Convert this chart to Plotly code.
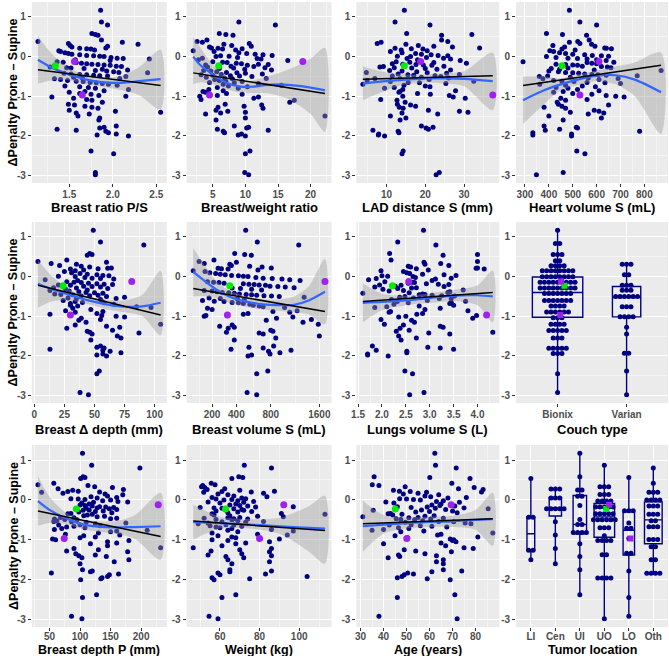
import numpy as np
import plotly.graph_objects as go

W, H = 669, 656

# ---------------- shared response (ΔPenalty Prone – Supine) ----------------
dpen = [
    1.17, 0.87, 0.80, 0.58, 0.56, 0.54,
    0.42, 0.38, 0.36, 0.33, 0.31, 0.28, 0.26, 0.24, 0.22, 0.21, 0.20, 0.19, 0.17, 0.15,
    0.13, 0.10, 0.08, 0.06, 0.05, 0.03, 0.02, 0.01, 0.00, -0.02, -0.04, -0.05, -0.06, -0.08, -0.10,
    -0.13, -0.14, -0.15, -0.17, -0.18, -0.19, -0.20, -0.21, -0.22, -0.24, -0.25, -0.26, -0.28, -0.29, -0.30, -0.32, -0.34,
    -0.35, -0.36, -0.38, -0.40, -0.41, -0.42, -0.44, -0.45, -0.46, -0.47, -0.48, -0.49, -0.50, -0.52, -0.54, -0.55, -0.56, -0.58,
    -0.60, -0.62, -0.63, -0.65, -0.66, -0.68, -0.70, -0.72, -0.74, -0.76, -0.78, -0.80, -0.83, -0.86, -0.88,
    -0.90, -0.93, -0.95, -0.98, -1.00, -1.02, -1.05, -1.08, -1.10, -1.15,
    -1.20, -1.22, -1.25, -1.28, -1.30, -1.35, -1.38, -1.40, -1.42, -1.45, -1.50, -1.55, -1.60,
    -1.75, -1.78, -1.80, -1.83, -1.86, -1.88, -1.92, -1.95, -1.98, -2.00,
    -2.38, -2.45, -2.92, -2.98]

couch_labels = ["Bionix", "Varian"]
couch_code = [
    0, 0, 0, 0, 0, 0,
    0, 0, 1, 0, 0, 1, 1, 0, 0, 0, 0, 0, 0, 0,
    0, 0, 0, 1, 0, 1, 0, 0, 0, 0, 0, 0, 0, 0, 0,
    0, 0, 0, 0, 0, 1, 0, 1, 0, 1, 0, 0, 1, 0, 0, 0, 0,
    0, 0, 1, 0, 1, 0, 1, 0, 0, 1, 0, 0, 1, 1, 1, 0, 1, 0,
    0, 0, 0, 0, 0, 0, 0, 0, 1, 1, 1, 0, 0, 0, 0,
    0, 0, 0, 1, 1, 1, 1, 0, 0, 0,
    0, 0, 0, 1, 0, 0, 0, 0, 0, 1, 0, 0, 0,
    0, 0, 0, 0, 0, 0, 1, 1, 0, 0,
    1, 0, 0, 1]

loc_labels = ["LI", "Cen", "UI", "UO", "LO", "Oth"]
loc_code = [
    2, 3, 5, 2, 4, 0,
    5, 3, 3, 1, 1, 3, 2, 2, 1, 5, 5, 3, 5, 3,
    2, 1, 3, 2, 5, 3, 1, 5, 1, 3, 5, 3, 5, 3, 5,
    3, 2, 5, 3, 1, 3, 1, 5, 1, 4, 1, 1, 3, 4, 4, 5, 3,
    5, 3, 3, 5, 3, 0, 3, 0, 3, 3, 3, 2, 5, 3, 5, 1, 3, 4,
    2, 5, 2, 3, 4, 5, 3, 5, 3, 4, 2, 2, 2, 2, 1,
    3, 5, 3, 3, 5, 3, 5, 3, 2, 5,
    5, 1, 0, 0, 4, 3, 4, 3, 2, 5, 0, 5, 1,
    2, 4, 5, 5, 5, 5, 3, 3, 3, 3,
    2, 4, 4, 3]

# highlighted patients (green, purple, purple)
hl_dpen = [-0.23, -0.12, -0.97]
hl_couch = [0, 0, 0]
hl_loc = [3, 3, 4]

# ---------------- predictors ----------------
breast_ratio = [
    1.86, 1.87, 1.94, 1.76, 1.80, 1.83,
    1.87, 1.14, 2.11, 1.49, 2.29, 1.51, 1.94, 1.53, 1.92, 1.62, 1.70, 1.75, 1.79, 1.38,
    1.40, 1.45, 1.49, 1.53, 1.62, 1.70, 1.78, 1.85, 1.90, 1.98, 2.05, 2.12, 2.42, 1.57, 1.97,
    1.36, 1.43, 1.58, 1.64, 1.70, 1.76, 1.83, 1.90, 1.97, 2.04, 2.10, 1.28, 1.47, 1.52, 1.67, 1.88, 2.17,
    1.80, 1.93, 2.01, 2.07, 2.40, 1.44, 1.52, 1.62, 1.70, 1.78, 1.85, 1.94, 2.15, 1.55, 1.65, 2.08, 1.33, 1.40,
    1.48, 1.58, 1.66, 1.74, 1.81, 1.88, 1.95, 2.05, 1.45, 1.62, 1.72, 1.80, 2.18, 1.90, 1.68,
    1.50, 1.62, 1.75, 1.84, 2.15, 1.30, 1.55, 1.70, 1.76, 1.88,
    1.49, 1.56, 1.68, 1.76, 1.83, 1.50, 2.03, 2.55, 1.58, 1.73, 1.60, 1.85, 1.84,
    2.04, 1.90, 1.85, 1.36, 1.58, 1.92, 1.95, 2.04, 1.82, 2.18,
    1.75, 2.01, 1.80, 1.80]
hl_breast_ratio = [1.34, 1.56, 1.65]

bw_ratio = [
    None, 9.0, 14.6, 6.0, 7.0, 8.1,
    4.1, 2.6, 3.4, 10.6, 6.7, 7.9, 10.9, 4.5, 4.8, 5.8, 9.5, 6.5, 8.5, 2.0,
    5.2, 9.0, 10.2, 11.5, 12.7, 14.1, 6.2, 7.5, 5.5, 8.8, 3.4, 11.8, 12.4, 2.8, 16.5,
    5.0, 6.5, 7.2, 8.6, 9.4, 12.0, 13.5, 3.9, 10.3, 7.8, 11.3, 4.2, 13.0, 8.2, 6.0, 9.9, 14.0,
    3.6, 4.7, 5.6, 7.1, 8.7, 10.0, 12.6, 6.3, 3.2, 5.0, 7.7, 9.1, 11.0, 4.0, 6.8, 13.2, 8.0, 5.3,
    6.0, 7.0, 9.5, 4.5, 8.3, 12.0, 6.6, 15.5, 7.4, 10.3, 5.7, 8.9, 4.4, 6.6, 3.5,
    3.9, 7.1, 9.5, 5.7, 3.0, 12.0, 11.3, 3.2, 17.5, 16.8,
    6.9, 12.5, 9.8, 5.8, 12.7, 5.5, 7.3, 10.0, 6.2, 3.9, 22.2, 10.0, 5.5,
    8.3, 10.5, 10.2, 5.7, 13.5, 6.6, 6.8, 9.4, 8.9, 10.0,
    10.7, 10.0, 9.9, 10.5]
hl_bw_ratio = [5.9, 18.8, 4.5]

lad_dist = [
    14.6, 12.2, 21.2, 15.2, 32.0, 24.2,
    24.2, 25.8, 8.6, 7.6, 15.0, 18.2, 22.2, 27.0, 34.0, 12.2, 16.4, 19.4, 13.8, 20.5,
    11.0, 14.0, 17.5, 19.0, 21.5, 23.3, 25.8, 12.8, 16.2, 20.3, 24.7, 15.3, 26.5, 18.0, 29.0,
    12.5, 16.0, 22.2, 30.6, 11.5, 14.2, 17.6, 19.5, 21.7, 24.8, 9.2, 8.3, 12.0, 16.5, 20.0, 23.0, 26.5,
    10.8, 14.0, 17.8, 4.8, 20.5, 25.5, 13.0, 28.8, 15.5, 17.0, 22.5, 11.5, 24.0, 19.0, 26.0, 7.0, 13.5, 21.0,
    5.0, 32.5, 11.0, 15.6, 18.5, 25.3, 3.9, 14.5, 20.0, 21.2, 12.0, 9.5, 14.2, 27.8, 13.5,
    13.2, 18.0, 21.3, 26.2, 14.2, 27.2, 30.3, 8.5, 12.7, 14.8,
    12.8, 16.2, 17.5, 13.3, 14.3, 20.8, 28.8, 31.0, 14.0, 23.2, 11.0, 15.0, 13.5,
    19.0, 22.0, 20.2, 20.8, 6.5, 13.0, 13.2, 8.0, 7.9, 9.5,
    14.3, 14.0, 23.6, 22.8]
hl_lad_dist = [14.6, 18.8, 37.4]

heart_vol = [
    486, 530, 600, 390, 457, 558,
    569, 521, 486, 530, 579, 417, 593, 466, 634, 641, 662, 455, 510, 404,
    420, 445, 470, 500, 550, 582, 620, 650, 390, 430, 480, 520, 560, 600, 640,
    292, 672, 560, 580, 600, 430, 470, 500, 520, 540, 620, 645, 660, 480, 410, 445, 590,
    870, 400, 440, 470, 500, 525, 550, 580, 605, 640, 770, 395, 360, 490, 565, 690, 375, 610,
    420, 455, 505, 560, 635, 700, 362, 470, 540, 595, 430, 480, 520, 610, 460,
    420, 500, 580, 640, 680, 715, 450, 560, 470, 435,
    440, 650, 455, 380, 470, 590, 610, 490, 630, 565, 400, 620, 460,
    380, 515, 520, 445, 385, 780, 333, 495, 333, 495,
    517, 551, 460, 348]
hl_heart_vol = [455, 610, 530]

breast_ddepth = [
    49, 55, 91, 46, 48, 44,
    27, 3, 60, 14, 35, 21, 39, 46, 64, 61, 53, 30, 41, 34,
    25, 31, 38, 44, 52, 57, 62, 20, 34, 42, 48, 55, 66, 9, 36,
    27, 33, 39, 45, 52, 58, 65, 20, 30, 41, 48, 55, 16, 35, 61, 26, 44,
    13, 29, 37, 43, 50, 57, 17, 22, 32, 53, 46, 39, 60, 75, 28, 68, 35, 55,
    24, 56, 34, 40, 58, 30, 66, 30, 36, 85, 97, 32, 47, 26, 57,
    34, 52, 13, 56, 68, 75, 39, 55, 37, 43,
    105, 34, 60, 71, 27, 65, 44, 46, 87, 48, 69, 72, 47,
    55, 52, 58, 13, 57, 63, 72, 57, 52, 60,
    54, 52, 38, 45]
hl_breast_ddepth = [24, 81, 30]

breast_vol = [
    495, 627, 1227, 384, 484, 557,
    213, 121, 400, 150, 339, 353, 538, 686, 807, 243, 269, 324, 635, 92,
    155, 185, 225, 260, 300, 355, 420, 470, 520, 610, 700, 820, 960, 1080, 1250,
    170, 210, 250, 290, 470, 530, 590, 650, 730, 790, 900, 1010, 1150, 360, 440, 560, 680,
    150, 200, 235, 275, 330, 380, 430, 500, 560, 620, 710, 810, 920, 1320, 180, 260, 410, 480,
    140, 215, 290, 360, 420, 470, 540, 580, 650, 700, 1000, 170, 200, 1200, 830,
    1080, 520, 470, 160, 150, 1130, 880, 1450, 740, 1300,
    1580, 360, 255, 380, 325, 800, 830, 310, 650, 700, 1600, 870, 380,
    840, 530, 700, 350, 1100, 770, 930, 790, 560, 520,
    760, 620, 510, 620]
hl_breast_vol = [339, 1710, 318]

lungs_vol = [
    2.87, 2.33, 3.13, 2.16, 4.00, 3.28,
    2.19, 4.00, 2.88, 3.23, 2.90, 3.40, 2.55, 2.60, 4.00, 3.97, 2.72, 4.14, 2.97, 1.98,
    2.45, 2.52, 2.58, 2.85, 3.30, 3.55, 2.00, 2.12, 2.65, 2.70, 3.45, 1.88, 3.12, 1.72, 3.05,
    2.06, 2.63, 2.68, 2.55, 2.93, 3.18, 3.40, 1.95, 2.40, 2.28, 3.30, 1.85, 2.72, 2.62, 2.33, 2.02, 3.70,
    2.45, 2.15, 3.42, 3.38, 2.57, 1.60, 2.85, 2.90, 2.78, 3.05, 3.25, 3.52, 2.48, 2.37, 2.66, 3.20, 3.45, 2.20,
    2.95, 3.75, 2.32, 3.45, 2.55, 3.42, 2.25, 3.50, 2.78, 2.10, 1.85, 3.22, 2.90, 3.80, 2.18,
    2.15, 2.85, 2.73, 3.98, 2.50, 2.35, 3.90, 1.98, 2.62, 2.68,
    2.05, 2.45, 3.22, 3.28, 2.38, 2.57, 2.30, 4.32, 2.98, 3.42, 2.35, 2.72, 2.40,
    1.80, 2.96, 3.22, 3.50, 1.88, 2.52, 2.52, 1.70, 1.70, 2.13,
    2.48, 2.64, 2.88, 2.58]
hl_lungs_vol = [2.22, 2.56, 4.19]

breast_depth_p = [
    104, 119, 198, 105, 108, 101,
    57, 31, 113, 124, 153, 64, 171, 88, 97, 80, 132, 37, 72, 141,
    170, 145, 118, 160, 128, 85, 97, 108, 150, 137, 162, 178, 122, 103, 115,
    100, 108, 120, 132, 142, 155, 128, 110, 148, 160, 115, 105, 138, 125, 98, 152, 85,
    80, 120, 112, 106, 140, 128, 68, 90, 160, 150, 58, 75, 95, 62, 57, 86, 110, 175,
    125, 100, 65, 133, 90, 78, 108, 70, 58, 210, 160, 150, 130, 76, 165,
    106, 125, 100, 55, 60, 180, 145, 160, 117, 145,
    232, 90, 130, 78, 178, 93, 125, 98, 143, 103, 180, 156, 100,
    104, 120, 117, 53, 163, 148, 145, 136, 134, 101,
    127, 104, 86, 103]
hl_breast_depth_p = [94, 228, 74]

weight = [
    None, 72.3, 86, 69.5, 71.5, 66,
    55.6, 57.5, 51.3, 50.7, 52.3, 62.4, 53.5, 70, 87.5, 61, 75.8, 51.8, 82, 59,
    64, 67, 83.7, 56, 71, 73, 58, 66, 62, 69, 77, 54, 72, 60, 68,
    65, 70, 74, 97, 78, 50, 57, 61, 67, 71, 63, 72, 58, 76, 69, 64, 91,
    56, 113, 57, 65, 79, 92, 70, 64, 52, 67, 74, 58, 66, 69, 82, 61, 73, 54,
    49, 63, 67, 55, 71, 58, 60, 66, 86, 64, 97, 69, 56, 79, 94,
    59, 66, 68, 90, 56, 64, 85, 73, 68, 61,
    46.5, 86, 70, 55.5, 85, 71, 54, 86, 63, 72, 64, 85, 66,
    65, 86, 65, 59, 83, 60, 104, 56, 75, 57,
    68, 61, 54.5, 59]
hl_weight = [62.8, 92.2, 80]

age = [
    62.3, 62.6, 71.6, 35.9, 60.1, 77.6,
    69.7, 35.1, 38.0, 49.4, 79.4, 72.6, 83.3, 44.3, 46.9, 51.6, 82.6, 58.7, 55.0, 48.6,
    64.0, 58.0, 60.5, 76.0, 68.0, 47.0, 50.0, 53.0, 56.0, 66.0, 63.0, 41.0, 73.0, 44.5, 65.0,
    61.0, 64.5, 71.0, 46.0, 59.0, 52.0, 75.0, 62.5, 85.5, 67.0, 56.5, 35.5, 70.0, 60.0, 54.0, 72.0, 43.0,
    42.0, 48.0, 44.0, 62.0, 58.0, 31.0, 55.0, 51.0, 66.0, 45.5, 60.5, 47.5, 53.5, 57.0, 64.0, 70.5, 49.5, 75.5,
    78.0, 52.0, 42.5, 56.0, 61.0, 67.5, 46.5, 51.0, 40.0, 35.0, 57.5, 47.5, 87.5, 65.0, 63.5,
    45.0, 81.0, 50.5, 69.0, 70.5, 70.0, 71.5, 65.0, 40.0, 67.0,
    75.0, 79.0, 49.0, 54.0, 69.5, 58.0, 46.5, 63.0, 47.0, 42.0, 66.0, 63.0, 66.0,
    66.0, 74.0, 61.0, 50.5, 53.0, 49.0, 48.0, 46.0, 59.0, 69.0,
    71.0, 46.0, 38.0, 72.0]
hl_age = [45.1, 69.4, 50.1]

# ---------------- fitted curves ----------------
lo_x_ratio = [1.14, 1.3, 1.5, 1.7, 1.9, 2.1, 2.3, 2.55]
lo_y_ratio = [-0.08, -0.28, -0.45, -0.58, -0.65, -0.66, -0.62, -0.57]
lo_lo_ratio = [-0.68, -0.60, -0.60, -0.70, -0.77, -0.84, -0.97, -1.33]
lo_hi_ratio = [0.52, 0.07, -0.30, -0.46, -0.53, -0.48, -0.27, 0.17]
lm_x_ratio, lm_y_ratio = [1.14, 2.55], [-0.33, -0.73]

lo_x_bw = [2.0, 3, 5, 7, 9, 11, 13, 15, 17, 20, 22.2]
lo_y_bw = [0.0, -0.2, -0.45, -0.65, -0.75, -0.76, -0.72, -0.70, -0.72, -0.78, -0.85]
lo_lo_bw = [-0.70, -0.65, -0.70, -0.82, -0.90, -0.92, -0.92, -0.98, -1.10, -1.45, -1.90]
lo_hi_bw = [0.50, 0.25, -0.20, -0.48, -0.60, -0.60, -0.52, -0.42, -0.30, -0.05, 0.22]
lm_x_bw, lm_y_bw = [2.0, 22.2], [-0.41, -0.93]

lo_x_lad = [3.9, 10, 15, 20, 25, 30, 37.4]
lo_y_lad = [-0.68, -0.62, -0.58, -0.55, -0.55, -0.56, -0.62]
lo_lo_lad = [-1.10, -0.85, -0.70, -0.65, -0.68, -0.75, -1.35]
lo_hi_lad = [-0.25, -0.40, -0.45, -0.45, -0.42, -0.37, 0.10]
lm_x_lad, lm_y_lad = [3.9, 37.4], [-0.57, -0.48]

lo_x_heart = [292, 380, 450, 520, 600, 680, 760, 870]
lo_y_heart = [-1.10, -0.85, -0.70, -0.58, -0.48, -0.47, -0.58, -0.90]
lo_lo_heart = [-1.70, -1.20, -0.85, -0.72, -0.62, -0.70, -1.00, -1.95]
lo_hi_heart = [-0.50, -0.50, -0.55, -0.45, -0.35, -0.25, -0.15, 0.10]
lm_x_heart, lm_y_heart = [292, 870], [-0.73, -0.22]

lo_x_dd = [3, 15, 30, 45, 60, 75, 90, 105]
lo_y_dd = [-0.18, -0.32, -0.47, -0.60, -0.70, -0.76, -0.75, -0.66]
lo_lo_dd = [-0.78, -0.62, -0.60, -0.70, -0.82, -0.90, -1.00, -1.48]
lo_hi_dd = [0.42, 0.00, -0.33, -0.50, -0.58, -0.60, -0.45, 0.15]
lm_x_dd, lm_y_dd = [3, 105], [-0.22, -0.97]

lo_x_bv = [92, 150, 240, 350, 500, 700, 900, 1150, 1400, 1710]
lo_y_bv = [0.12, -0.10, -0.35, -0.52, -0.63, -0.70, -0.72, -0.71, -0.60, -0.38]
lo_lo_bv = [-0.50, -0.50, -0.55, -0.67, -0.76, -0.83, -0.86, -0.90, -0.95, -1.20]
lo_hi_bv = [0.72, 0.30, -0.15, -0.37, -0.50, -0.57, -0.58, -0.50, -0.25, 0.45]
lm_x_bv, lm_y_bv = [92, 1710], [-0.30, -0.88]

lo_x_lung = [1.6, 2.0, 2.5, 3.0, 3.5, 4.0, 4.32]
lo_y_lung = [-0.66, -0.64, -0.60, -0.54, -0.48, -0.47, -0.50]
lo_lo_lung = [-1.15, -0.85, -0.72, -0.66, -0.62, -0.72, -1.15]
lo_hi_lung = [-0.17, -0.43, -0.48, -0.42, -0.34, -0.22, 0.15]
lm_x_lung, lm_y_lung = [1.6, 4.32], [-0.63, -0.40]

lo_x_dp = [31, 50, 75, 100, 130, 160, 190, 232]
lo_y_dp = [-0.03, -0.25, -0.45, -0.60, -0.67, -0.69, -0.68, -0.66]
lo_lo_dp = [-0.65, -0.58, -0.60, -0.72, -0.80, -0.85, -0.98, -1.50]
lo_hi_dp = [0.60, 0.08, -0.30, -0.48, -0.54, -0.53, -0.38, 0.18]
lm_x_dp, lm_y_dp = [31, 232], [-0.28, -0.92]

lo_x_wt = [46.5, 60, 75, 90, 105, 113]
lo_y_wt = [-0.56, -0.58, -0.62, -0.66, -0.70, -0.72]
lo_lo_wt = [-1.00, -0.72, -0.72, -0.85, -1.30, -1.60]
lo_hi_wt = [-0.12, -0.42, -0.48, -0.45, -0.15, 0.10]
lm_x_wt, lm_y_wt = [46.5, 113], [-0.53, -0.77]

lo_x_age = [31, 40, 50, 60, 70, 80, 87.5]
lo_y_age = [-0.66, -0.62, -0.58, -0.55, -0.54, -0.50, -0.48]
lo_lo_age = [-1.30, -0.85, -0.72, -0.68, -0.68, -0.75, -1.15]
lo_hi_age = [-0.02, -0.38, -0.44, -0.42, -0.40, -0.25, 0.18]
lm_x_age, lm_y_age = [31, 87.5], [-0.60, -0.47]

for arr in [breast_ratio, bw_ratio, lad_dist, heart_vol, breast_ddepth, breast_vol,
            lungs_vol, breast_depth_p, weight, age, couch_code, loc_code]:
    assert len(arr) == len(dpen), len(arr)

# ---------------- styling ----------------
NAVY = "#000080"
HL_COLORS = ["#00EE00", "#A020F0", "#A020F0"]
FONT = "Liberation Sans, Arial, sans-serif"
TICKFONT = dict(family=FONT, size=10, color="#4D4D4D", weight="bold")
PANEL_BG = "#EBEBEB"

cols_px = [(27, 163), (183, 329), (354, 498), (515, 668)]
rows_px = [(2, 183), (222, 403), (445, 627)]
xtitle_y = [207, 429, 649.5]
xtitle_size = [13, 13, 12.5]


def xdom(c):
    return [cols_px[c][0] / W, cols_px[c][1] / W]


def ydom(r):
    return [1 - rows_px[r][1] / H, 1 - rows_px[r][0] / H]


def expand(lo, hi, f=0.05):
    d = (hi - lo) * f
    return [lo - d, hi + d]


allY = np.array(dpen + hl_dpen, dtype=float)
YR = expand(np.nanmin(allY), np.nanmax(allY))
YTICKS = [-3, -2, -1, 0, 1]

fig = go.Figure()
layout = {}
annotations = []
shapes = []


def base_axis():
    return dict(showgrid=True, gridcolor="white", gridwidth=1.1, zeroline=False, showline=False,
                ticks="outside", ticklen=3, tickwidth=1, tickcolor="#333333",
                tickfont=TICKFONT, fixedrange=True)


def set_axes(k, r, c, xrange, xtickvals, xticktext, xminor):
    xa = base_axis()
    xa.update(domain=xdom(c), anchor="y%d" % k, range=xrange,
              tickmode="array", tickvals=xtickvals, ticktext=xticktext,
              ticklabelstandoff=-3 if r == 2 else -1)
    if xminor:
        xa["minor"] = dict(tickvals=xminor, showgrid=True, gridcolor="#F5F5F5", gridwidth=0.6, ticks="")
    ya = base_axis()
    ya.update(domain=ydom(r), anchor="x%d" % k, range=YR,
              tickmode="array", tickvals=YTICKS, ticktext=[str(v) for v in YTICKS],
              minor=dict(tickvals=[-2.5, -1.5, -0.5, 0.5], showgrid=True, gridcolor="#F5F5F5",
                         gridwidth=0.6, ticks=""))
    suffix = "" if k == 1 else str(k)
    layout["xaxis" + suffix] = xa
    layout["yaxis" + suffix] = ya
    shapes.append(dict(type="rect", xref="paper", yref="paper", layer="below",
                       x0=xdom(c)[0], x1=xdom(c)[1], y0=ydom(r)[0], y1=ydom(r)[1],
                       fillcolor=PANEL_BG, line=dict(width=0)))


def midpoints(v):
    v = list(v)
    return [(a + b) / 2 for a, b in zip(v[:-1], v[1:])]


def add_xtitle(r, c, title):
    annotations.append(dict(text=title, xref="paper", yref="paper",
                            x=(cols_px[c][0] + cols_px[c][1]) / 2 / W, y=1 - xtitle_y[r] / H,
                            xanchor="center", yanchor="middle", showarrow=False,
                            font=dict(family=FONT, size=xtitle_size[r], color="black", weight="bold")))


def scatter_panel(k, r, c, xdata, hlx, title, tickvals, ticktext, sx, sy, blo, bhi, lmx, lmy, sqrt=False):
    tf = (lambda a: np.sqrt(np.array(a, dtype=float))) if sqrt else (lambda a: np.array(a, dtype=float))
    xs = tf([np.nan if v is None else v for v in xdata])
    hx = tf(hlx)
    allx = np.concatenate([xs[~np.isnan(xs)], hx])
    xr = expand(allx.min(), allx.max())
    tv = list(tf(tickvals))
    step = tv[1] - tv[0]
    minor = midpoints([tv[0] - step] + tv + [tv[-1] + (tv[-1] - tv[-2])])
    set_axes(k, r, c, xr, tv, ticktext, minor)
    xa, ya = "x%d" % k, "y%d" % k
    fig.add_trace(go.Scatter(x=xs, y=dpen, mode="markers", xaxis=xa, yaxis=ya,
                             marker=dict(color=NAVY, size=5, line=dict(width=0)), hoverinfo="skip"))
    bx = list(tf(sx))
    fig.add_trace(go.Scatter(x=bx + bx[::-1], y=list(bhi) + list(blo)[::-1], xaxis=xa, yaxis=ya,
                             mode="lines", fill="toself", fillcolor="rgba(153,153,153,0.4)",
                             line=dict(width=0, shape="spline", smoothing=0.8), hoverinfo="skip"))
    fig.add_trace(go.Scatter(x=bx, y=sy, mode="lines", xaxis=xa, yaxis=ya,
                             line=dict(color="#3366FF", width=2.2, shape="spline", smoothing=0.8),
                             hoverinfo="skip"))
    fig.add_trace(go.Scatter(x=tf(lmx), y=lmy, mode="lines", xaxis=xa, yaxis=ya,
                             line=dict(color="black", width=1.5), hoverinfo="skip"))
    fig.add_trace(go.Scatter(x=hx, y=hl_dpen, mode="markers", xaxis=xa, yaxis=ya,
                             marker=dict(color=HL_COLORS, size=7, line=dict(width=0)), hoverinfo="skip"))
    add_xtitle(r, c, title)


def dot_bins(vals, bw):
    v = np.sort(np.asarray(vals, dtype=float))
    out = []
    i = 0
    while i < len(v):
        j = i
        while j < len(v) and v[j] < v[i] + bw:
            j += 1
        out.append(((v[i] + v[j - 1]) / 2, j - i))
        i = j
    return out


def cat_panel(k, r, c, codes, labels, hl_codes, hl_jit, title, wmax):
    n = len(labels)
    xr = [-0.6, n - 1 + 0.6]
    set_axes(k, r, c, xr, list(range(n)), labels, None)
    xa, ya = "x%d" % k, "y%d" % k
    allc = list(codes) + list(hl_codes)
    ally = list(dpen) + list(hl_dpen)
    groups = [[y for y, g in zip(ally, allc) if g == i] for i in range(n)]
    nmax = max(len(g) for g in groups)
    px_per_unit = (cols_px[c][1] - cols_px[c][0]) / (xr[1] - xr[0])
    dx = 4.4 / px_per_unit
    bw = (YR[1] - YR[0]) / 1.1 / 30
    for i, g in enumerate(groups):
        if not g:
            continue
        q1, med, q3 = np.percentile(g, [25, 50, 75])
        fig.add_trace(go.Box(x=[i], q1=[q1], median=[med], q3=[q3], lowerfence=[min(g)],
                             upperfence=[max(g)], width=wmax * np.sqrt(len(g) / nmax),
                             xaxis=xa, yaxis=ya, line=dict(color=NAVY, width=1.4),
                             fillcolor="rgba(0,0,0,0)", whiskerwidth=0, boxpoints=False,
                             hoverinfo="skip"))
        dxs, dys = [], []
        for center, m in dot_bins(g, bw):
            for j in range(m):
                dxs.append(i + (j - (m - 1) / 2) * dx)
                dys.append(center)
        fig.add_trace(go.Scatter(x=dxs, y=dys, mode="markers", xaxis=xa, yaxis=ya,
                                 marker=dict(color=NAVY, size=5, line=dict(width=0)), hoverinfo="skip"))
    fig.add_trace(go.Scatter(x=[h + j for h, j in zip(hl_codes, hl_jit)], y=hl_dpen, mode="markers",
                             xaxis=xa, yaxis=ya,
                             marker=dict(color=HL_COLORS, size=6, symbol="square", line=dict(width=0)),
                             hoverinfo="skip"))
    add_xtitle(r, c, title)


scatter_panel(1, 0, 0, breast_ratio, hl_breast_ratio, "Breast ratio P/S", [1.5, 2.0, 2.5], ["1.5", "2.0", "2.5"],
              lo_x_ratio, lo_y_ratio, lo_lo_ratio, lo_hi_ratio, lm_x_ratio, lm_y_ratio)
scatter_panel(2, 0, 1, bw_ratio, hl_bw_ratio, "Breast/weight ratio", [5, 10, 15, 20], ["5", "10", "15", "20"],
              lo_x_bw, lo_y_bw, lo_lo_bw, lo_hi_bw, lm_x_bw, lm_y_bw)
scatter_panel(3, 0, 2, lad_dist, hl_lad_dist, "LAD distance S (mm)", [10, 20, 30], ["10", "20", "30"],
              lo_x_lad, lo_y_lad, lo_lo_lad, lo_hi_lad, lm_x_lad, lm_y_lad)
scatter_panel(4, 0, 3, heart_vol, hl_heart_vol, "Heart volume S (mL)", [300, 400, 500, 600, 700, 800],
              ["300", "400", "500", "600", "700", "800"],
              lo_x_heart, lo_y_heart, lo_lo_heart, lo_hi_heart, lm_x_heart, lm_y_heart)
scatter_panel(5, 1, 0, breast_ddepth, hl_breast_ddepth, "Breast Δ depth (mm)", [0, 25, 50, 75, 100],
              ["0", "25", "50", "75", "100"],
              lo_x_dd, lo_y_dd, lo_lo_dd, lo_hi_dd, lm_x_dd, lm_y_dd)
scatter_panel(6, 1, 1, breast_vol, hl_breast_vol, "Breast volume S (mL)", [200, 400, 800, 1600],
              ["200", "400", "800", "1600"],
              lo_x_bv, lo_y_bv, lo_lo_bv, lo_hi_bv, lm_x_bv, lm_y_bv, sqrt=True)
scatter_panel(7, 1, 2, lungs_vol, hl_lungs_vol, "Lungs volume S (L)", [1.5, 2.0, 2.5, 3.0, 3.5, 4.0],
              ["1.5", "2.0", "2.5", "3.0", "3.5", "4.0"],
              lo_x_lung, lo_y_lung, lo_lo_lung, lo_hi_lung, lm_x_lung, lm_y_lung)
cat_panel(8, 1, 3, couch_code, couch_labels, hl_couch, [0.1, 0.05, 0.04], "Couch type", 0.73)
scatter_panel(9, 2, 0, breast_depth_p, hl_breast_depth_p, "Breast depth P (mm)", [50, 100, 150, 200],
              ["50", "100", "150", "200"],
              lo_x_dp, lo_y_dp, lo_lo_dp, lo_hi_dp, lm_x_dp, lm_y_dp)
scatter_panel(10, 2, 1, weight, hl_weight, "Weight (kg)", [60, 80, 100], ["60", "80", "100"],
              lo_x_wt, lo_y_wt, lo_lo_wt, lo_hi_wt, lm_x_wt, lm_y_wt)
scatter_panel(11, 2, 2, age, hl_age, "Age (years)", [30, 40, 50, 60, 70, 80], ["30", "40", "50", "60", "70", "80"],
              lo_x_age, lo_y_age, lo_lo_age, lo_hi_age, lm_x_age, lm_y_age)
cat_panel(12, 2, 3, loc_code, loc_labels, hl_loc, [0.08, 0.2, 0.07], "Tumor location", 0.84)

for r in range(3):
    annotations.append(dict(text="ΔPenalty Prone – Supine", xref="paper", yref="paper",
                            x=9 / W, y=1 - (rows_px[r][0] + rows_px[r][1]) / 2 / H,
                            xanchor="center", yanchor="middle", textangle=-90, showarrow=False,
                            font=dict(family=FONT, size=12.5, color="black", weight="bold")))

fig.update_layout(width=W, height=H, margin=dict(l=0, r=0, t=0, b=0, pad=0),
                  paper_bgcolor="white", plot_bgcolor="rgba(0,0,0,0)", showlegend=False,
                  annotations=annotations, shapes=shapes, **layout)

fig.write_html("out.html", config={"displayModeBar": False},
               post_script="document.body.style.margin='0';document.body.style.overflow='hidden';")
